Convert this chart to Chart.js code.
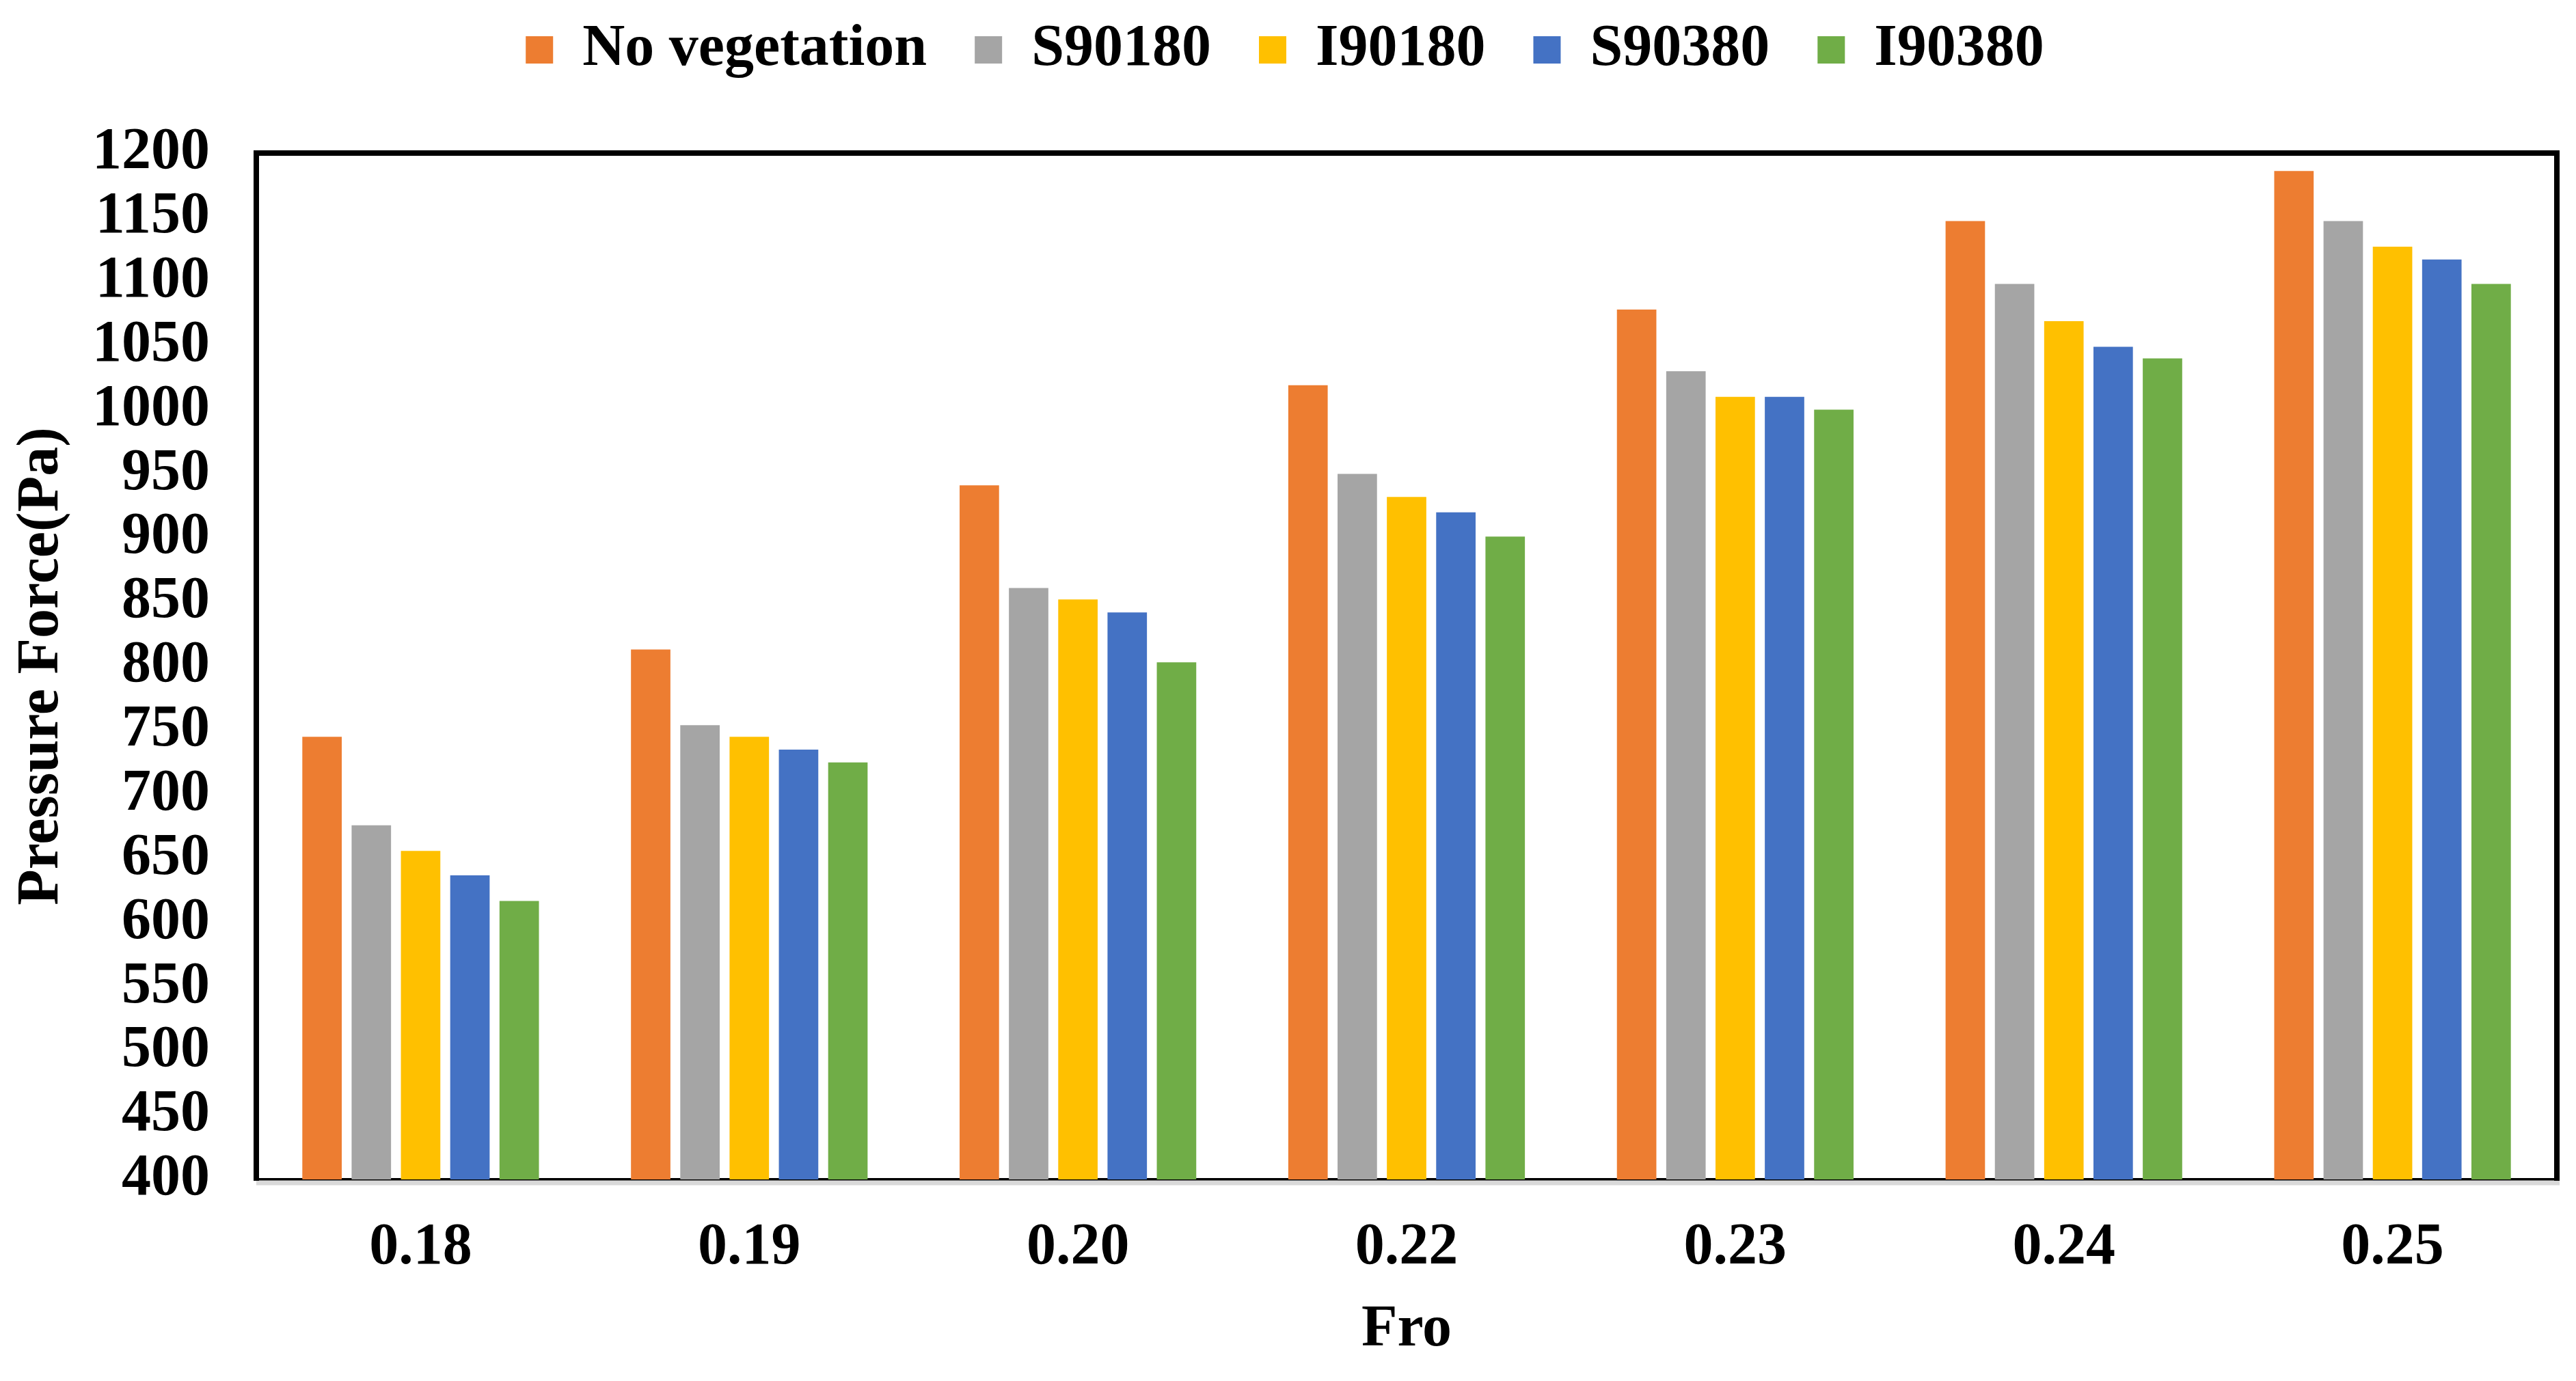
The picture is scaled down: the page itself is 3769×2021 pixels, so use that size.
<!DOCTYPE html>
<html>
<head>
<meta charset="utf-8">
<script src="https://cdn.jsdelivr.net/npm/chart.js@4.4.1/dist/chart.umd.min.js"></script>
<style>
  html, body { margin: 0; padding: 0; background: #fff; }
  #wrap { width: 3769px; height: 2021px; }
</style>
</head>
<body>
<div id="wrap"><canvas id="chart"></canvas></div>
<script>
const categories = ['0.18', '0.19', '0.20', '0.22', '0.23', '0.24', '0.25']
const seriesNames = ['No vegetation', 'S90180', 'I90180', 'S90380', 'I90380']
const noVegetation = [745, 813, 941, 1019, 1078, 1147, 1186]
const s90180 = [676, 754, 861, 950, 1030, 1098, 1147]
const i90180 = [656, 745, 852, 932, 1010, 1069, 1127]
const s90380 = [637, 735, 842, 920, 1010, 1049, 1117]
const i90380 = [617, 725, 803, 901, 1000, 1040, 1098]
const colors = ['#ED7D31', '#A5A5A5', '#FFC000', '#4472C4', '#70AD47']

const font = { family: 'Liberation Serif', weight: 'bold', size: 86, lineHeight: 1 }
Chart.defaults.color = '#000'

// thick black frame on top/left/right, grey line under the x axis
const frame = {
  id: 'frame',
  afterDatasetsDraw(chart) {
    const { ctx, chartArea: a } = chart
    ctx.save()
    ctx.strokeStyle = '#d9d9d9'
    ctx.lineWidth = 7
    ctx.beginPath()
    ctx.moveTo(a.left, a.bottom + 5)
    ctx.lineTo(a.right + 4, a.bottom + 5)
    ctx.stroke()
    ctx.strokeStyle = '#000'
    ctx.lineWidth = 8
    ctx.beginPath()
    ctx.moveTo(a.left, a.bottom + 2)
    ctx.lineTo(a.left, a.top)
    ctx.lineTo(a.right, a.top)
    ctx.lineTo(a.right, a.bottom + 2)
    ctx.stroke()
    ctx.restore()
  }
}

// more room between legend and plot
const legendGap = {
  id: 'legendGap',
  beforeInit(chart) {
    const fit = chart.legend.fit
    chart.legend.fit = function () {
      fit.call(this)
      this.height += 98
    }
  }
}

const values = [noVegetation, s90180, i90180, s90380, i90380]
const datasets = seriesNames.map((name, i) => ({
  label: name,
  data: values[i],
  backgroundColor: colors[i],
  borderWidth: 0,
  categoryPercentage: 0.75,
  barPercentage: 0.8
}))

new Chart(document.getElementById('chart'), {
  type: 'bar',
  data: { labels: categories, datasets: datasets },
  plugins: [frame, legendGap],
  options: {
    responsive: true,
    maintainAspectRatio: false,
    devicePixelRatio: 1,
    animation: false,
    layout: { padding: { left: 19, right: 28, top: -40, bottom: 31 } },
    plugins: {
      legend: {
        position: 'top',
        labels: { font: font, boxWidth: 40, boxHeight: 40, padding: 70 }
      },
      tooltip: { enabled: false }
    },
    scales: {
      x: {
        grid: { display: false, drawTicks: false },
        border: { display: true, color: '#000', width: 4 },
        ticks: { font: font, padding: 58 },
        title: { display: true, text: 'Fro', font: font, padding: { top: -24, bottom: 0 } }
      },
      y: {
        min: 400,
        max: 1200,
        grid: { display: false, drawTicks: false },
        border: { display: false },
        ticks: { font: font, stepSize: 50, padding: 68, autoSkip: false, callback: v => String(v) },
        title: { display: true, text: 'Pressure Force(Pa)', font: font, padding: { top: 0, bottom: -38 } }
      }
    }
  }
})
</script>
</body>
</html>
